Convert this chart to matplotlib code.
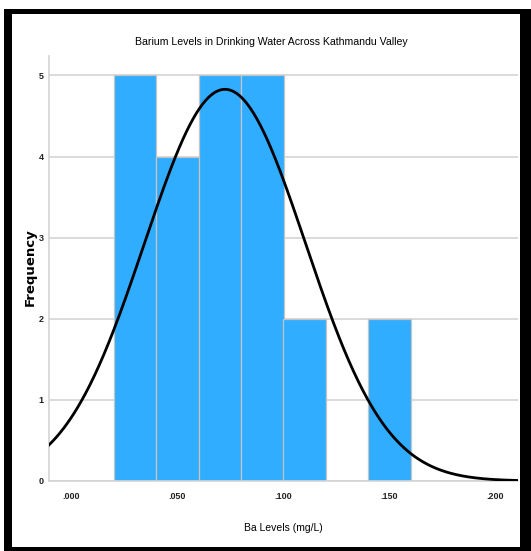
import numpy as np
import matplotlib.pyplot as plt
from matplotlib.patches import Rectangle

# histogram data
bin_left = [0.02, 0.04, 0.06, 0.08, 0.10, 0.12, 0.14]
counts = [5, 4, 5, 5, 2, 0, 2]
bin_width = 0.02
xticks = [0.0, 0.05, 0.10, 0.15, 0.20]
xtick_labels = ['.000', '.050', '.100', '.150', '.200']
yticks = [0, 1, 2, 3, 4, 5]

# normal curve parameters (estimated)
mu = 0.0724
sigma = 0.0380
n_total = sum(counts)

narrow = ['Liberation Sans', 'DejaVu Sans']

fig = plt.figure(figsize=(5.31, 5.51), dpi=100)
fig.patch.set_facecolor('white')

# black frame around the chart
W, H = 531.0, 551.0
def band(x0, y0, x1, y1):
	# pixel coords from top-left
	fig.patches.append(Rectangle((x0 / W, 1 - y1 / H), (x1 - x0) / W, (y1 - y0) / H,
		transform=fig.transFigure, facecolor='black', edgecolor='none', zorder=0))
band(4, 9, 12, 551)
band(4, 9, 531, 14)
band(520, 9, 531, 551)
band(4, 547, 531, 551)

ax = fig.add_axes([49 / W, 1 - 481 / H, (518 - 49) / W, (481 - 56) / H])
ax.set_facecolor('white')

ax.bar(bin_left, counts, width=bin_width, align='edge', color='#31adff',
	edgecolor='#c4c4c4', linewidth=0.9, zorder=2)

xs = np.linspace(-0.0106, 0.2106, 400)
ys = n_total * bin_width / (sigma * np.sqrt(2 * np.pi)) * np.exp(-0.5 * ((xs - mu) / sigma) ** 2)
ax.plot(xs, ys, color='black', linewidth=2.0, zorder=3)

ax.set_xlim(-0.0106, 0.2106)
ax.set_ylim(0, 5.24)
ax.set_yticks(yticks)
ax.set_yticklabels([str(v) for v in yticks], family=narrow, fontsize=6.5, fontweight='bold', color='#222222')
ax.set_xticks(xticks)
ax.set_xticklabels(xtick_labels, family=narrow, fontsize=6.5, fontweight='bold', color='#222222')
ax.tick_params(axis='both', length=0)
ax.tick_params(axis='y', pad=4)
ax.tick_params(axis='x', pad=8)

ax.grid(axis='y', color='#d4d4d4', linewidth=1.2, zorder=0)
ax.set_axisbelow(True)
for s in ['top', 'right']:
	ax.spines[s].set_visible(False)
for s in ['left', 'bottom']:
	ax.spines[s].set_color('#d4d4d4')
	ax.spines[s].set_linewidth(1.2)

ax.set_ylabel('Frequency', family=['DejaVu Sans'], fontsize=9.5,
	fontweight='bold', labelpad=8)
ax.set_xlabel('Ba Levels (mg/L)', family=narrow, fontsize=7.5, labelpad=14)
ax.xaxis.set_label_coords((283 - 49) / (518 - 49), -(523 - 481) / (481 - 56))
ax.yaxis.set_label_coords(-(49 - 37) / (518 - 49), (481 - 267) / (481 - 56))

fig.text(271 / W, 1 - 42 / H, 'Barium Levels in Drinking Water Across Kathmandu Valley',
	family=narrow, fontsize=7.6, ha='center', va='center')

fig.savefig('out.png', dpi=100, facecolor='white')
